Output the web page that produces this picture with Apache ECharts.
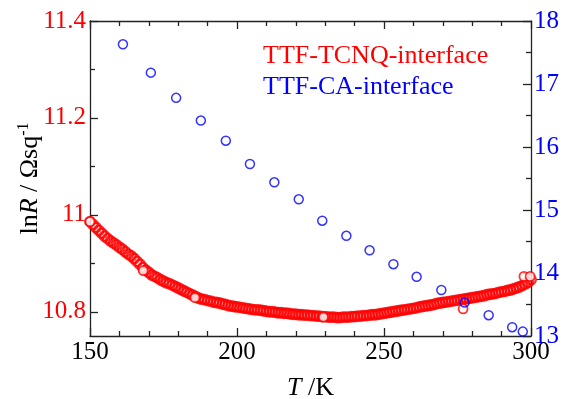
<!DOCTYPE html>
<html>
<head>
<meta charset="utf-8">
<script src="https://cdn.jsdelivr.net/npm/echarts@6/dist/echarts.min.js"></script>
<style>
  html, body { margin: 0; padding: 0; background: #fff; }
  #chart { width: 567px; height: 399px; }
</style>
</head>
<body>
<div id="chart"></div>
<script>
// TTF-TCNQ interface: T (K) and lnR
const tcnqT = [
  150,151,152,153,154,155,156,157,158,159,160,161,162,163,164,165,166,167,168,169,
  170,171,172,173,174,175,176,177,178,179,180,181,182,183,184,185,186,187,188,189,
  190,191,192,193,194,195,196,197,198,199,200,201,202,203,204,205,206,207,208,209,
  210,211,212,213,214,215,216,217,218,219,220,221,222,223,224,225,226,227,228,229,
  230,231,232,233,234,235,236,237,238,239,240,241,242,243,244,245,246,247,248,249,
  250,251,252,253,254,255,256,257,258,259,260,261,262,263,264,265,266,267,268,269,
  270,271,272,273,274,275,276,277,278,279,280,281,282,283,284,285,286,287,288,289,
  290,291,292,293,294,295,296,297,298,299,300
];
const tcnqLnR = [
  10.986,10.980,10.974,10.968,10.962,10.956,10.951,10.946,10.942,10.938,
  10.933,10.929,10.924,10.919,10.915,10.910,10.904,10.898,10.891,10.886,
  10.881,10.876,10.873,10.870,10.866,10.863,10.860,10.858,10.855,10.852,
  10.849,10.846,10.843,10.840,10.837,10.834,10.831,10.828,10.826,10.825,
  10.823,10.822,10.820,10.819,10.818,10.816,10.815,10.813,10.812,10.811,
  10.810,10.809,10.808,10.807,10.806,10.805,10.804,10.804,10.803,10.802,
  10.801,10.800,10.800,10.799,10.798,10.798,10.797,10.797,10.796,10.795,
  10.795,10.794,10.794,10.793,10.793,10.792,10.792,10.791,10.791,10.790,
  10.790,10.789,10.789,10.789,10.788,10.788,10.789,10.789,10.789,10.790,
  10.790,10.791,10.791,10.792,10.792,10.793,10.794,10.794,10.795,10.796,
  10.797,10.798,10.799,10.800,10.801,10.802,10.803,10.804,10.805,10.806,
  10.807,10.808,10.810,10.811,10.812,10.813,10.814,10.815,10.817,10.818,
  10.819,10.820,10.821,10.822,10.823,10.824,10.825,10.826,10.827,10.828,
  10.829,10.830,10.831,10.832,10.833,10.835,10.836,10.837,10.838,10.840,
  10.841,10.842,10.844,10.845,10.847,10.849,10.851,10.854,10.857,10.861,
  10.866
];
// a few red circles that stand out from the band (white centre visible)
const tcnqOddT = [150, 168.1, 185.7, 229.4, 276.9, 297.6, 299.7];
const tcnqOddLnR = [10.986, 10.885, 10.829, 10.789, 10.806, 10.873, 10.873];

// TTF-CA interface: T (K) and R on the right axis
const caT = [161.2, 170.7, 179.3, 187.7, 196.2, 204.4, 212.7, 221.0, 229.0,
  237.2, 245.1, 253.2, 261.1, 269.5, 277.4, 285.6, 293.6, 297.2];
const caR = [17.63, 17.18, 16.78, 16.42, 16.10, 15.73, 15.44, 15.17, 14.83,
  14.59, 14.36, 14.14, 13.94, 13.73, 13.53, 13.33, 13.14, 13.07];

const leftLabels = [10.8, 11, 11.2, 11.4];
const leftMinor = [10.9, 11.1, 11.3];

const FONT = 'Liberation Serif';
const RED = '#ff0000';
const BLUE = '#0000ff';
const AXIS = '#222';

const zip = (xs, ys) => xs.map((x, i) => [x, ys[i]]);

const chart = echarts.init(document.getElementById('chart'));

const lineStyle = { color: AXIS, width: 1.3 };

chart.setOption({
  animation: false,
  backgroundColor: '#fff',
  grid: { left: 90, right: 36, top: 21, bottom: 63, outerBoundsMode: 'none', containLabel: false },
  xAxis: [
    {
      type: 'value', min: 150, max: 300, interval: 50,
      position: 'bottom',
      axisLine: { lineStyle },
      axisTick: { inside: true, length: 8, lineStyle },
      minorTick: { show: true, splitNumber: 5, length: 5, lineStyle },
      splitLine: { show: false },
      axisLabel: { color: '#000', fontFamily: FONT, fontSize: 25, margin: 4 },
      name: '{i|T}{n| /K}',
      nameLocation: 'middle',
      nameGap: 39,
      nameMoveOverlap: false,
      nameTextStyle: {
        rich: {
          i: { fontFamily: FONT, fontSize: 26, fontStyle: 'italic', color: '#000' },
          n: { fontFamily: FONT, fontSize: 26, color: '#000' }
        }
      }
    },
    {
      type: 'value', min: 150, max: 300, interval: 50,
      position: 'top',
      axisLine: { lineStyle },
      axisTick: { inside: true, length: 8, lineStyle },
      minorTick: { show: true, splitNumber: 5, length: 5, lineStyle },
      splitLine: { show: false },
      axisLabel: { show: false }
    }
  ],
  yAxis: [
    {
      type: 'value', min: 10.75, max: 11.4,
      position: 'left',
      axisLine: { show: true, lineStyle },
      axisTick: { show: true, inside: true, length: 8, lineStyle, customValues: leftLabels },
      splitLine: { show: false },
      axisLabel: { color: RED, fontFamily: FONT, fontSize: 25, margin: 4, customValues: leftLabels },
      name: '{n|ln}{i|R}{n| / Ωsq}{s|-1}',
      nameLocation: 'middle',
      nameRotate: 90,
      nameGap: 46,
      nameMoveOverlap: false,
      nameTextStyle: {
        rich: {
          n: { fontFamily: FONT, fontSize: 26, color: '#000' },
          i: { fontFamily: FONT, fontSize: 26, fontStyle: 'italic', color: '#000' },
          s: { fontFamily: FONT, fontSize: 16, color: '#000', verticalAlign: 'top', padding: [0, 0, 12, 0] }
        }
      }
    },
    {
      type: 'value', min: 10.75, max: 11.4,
      position: 'left',
      axisLine: { show: false },
      axisTick: { show: true, inside: true, length: 5, lineStyle, customValues: leftMinor },
      splitLine: { show: false },
      axisLabel: { show: false }
    },
    {
      type: 'value', min: 13, max: 18, interval: 1,
      position: 'right',
      axisLine: { show: true, lineStyle },
      axisTick: { show: true, inside: true, length: 8, lineStyle },
      minorTick: { show: true, splitNumber: 2, length: 5, lineStyle },
      splitLine: { show: false },
      axisLabel: { color: BLUE, fontFamily: FONT, fontSize: 25, margin: 3 }
    }
  ],
  series: [
    {
      name: 'TTF-TCNQ-interface',
      type: 'scatter',
      yAxisIndex: 0,
      clip: false,
      symbol: 'circle',
      symbolSize: 9.5,
      itemStyle: { color: 'rgba(0,0,0,0)', borderColor: RED, borderWidth: 2.4 },
      data: zip(tcnqT, tcnqLnR)
    },
    {
      name: 'TTF-TCNQ-interface',
      type: 'scatter',
      yAxisIndex: 0,
      clip: false,
      symbol: 'circle',
      symbolSize: 9,
      itemStyle: { color: '#fff', borderColor: RED, borderWidth: 1.8 },
      data: zip(tcnqOddT, tcnqOddLnR)
    },
    {
      name: 'TTF-CA-interface',
      type: 'scatter',
      yAxisIndex: 2,
      clip: false,
      symbol: 'circle',
      symbolSize: 9,
      itemStyle: { color: 'rgba(0,0,0,0)', borderColor: BLUE, borderWidth: 1.5 },
      data: zip(caT, caR)
    }
  ],
  graphic: [
    {
      type: 'text', left: 263, top: 43,
      style: { text: 'TTF-TCNQ-interface', fill: RED, font: '26px "Liberation Serif"' }
    },
    {
      type: 'text', left: 263, top: 74,
      style: { text: 'TTF-CA-interface', fill: BLUE, font: '26px "Liberation Serif"' }
    }
  ]
});
</script>
</body>
</html>
